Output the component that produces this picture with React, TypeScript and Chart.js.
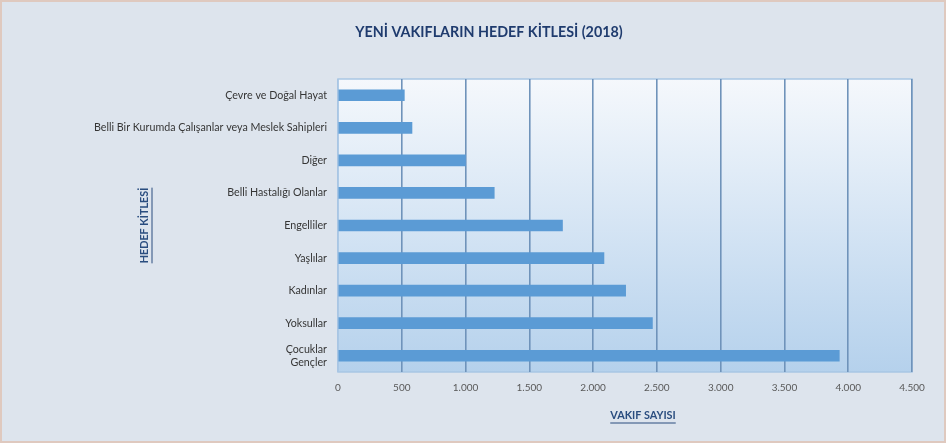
import React, { useEffect, useRef } from "react";
import { Chart, registerables } from "chart.js";

Chart.register(...registerables);

const categories: (string | string[])[] = [
  "Çevre ve Doğal Hayat",
  "Belli Bir Kurumda Çalışanlar veya Meslek Sahipleri",
  "Diğer",
  "Belli Hastalığı Olanlar",
  "Engelliler",
  "Yaşlılar",
  "Kadınlar",
  "Yoksullar",
  ["Çocuklar", "Gençler"],
];
const vakifSayisi: number[] = [520, 580, 1000, 1225, 1760, 2085, 2255, 2465, 3930];
const xTicks: number[] = [0, 500, 1000, 1500, 2000, 2500, 3000, 3500, 4000, 4500];
const chartTitle = "YENİ VAKIFLARIN HEDEF KİTLESİ (2018)";
const xTitle = "VAKIF SAYISI";
const yTitle = "HEDEF KİTLESİ";

const FONT = "Lato, 'Open Sans', sans-serif";

const decorPlugin = {
  id: "decor",
  beforeDraw(chart: any) {
    const { ctx, chartArea: a } = chart;
    ctx.save();
    const g = ctx.createLinearGradient(0, a.top, 0, a.bottom);
    g.addColorStop(0, "#f5f8fc");
    g.addColorStop(1, "#b5d1ec");
    ctx.fillStyle = g;
    ctx.fillRect(a.left, a.top, a.right - a.left, a.bottom - a.top);
    ctx.strokeStyle = "#a9c6e4";
    ctx.lineWidth = 1.5;
    ctx.strokeRect(a.left, a.top, a.right - a.left, a.bottom - a.top);
    ctx.restore();
  },
  afterDraw(chart: any) {
    const { ctx, chartArea: a } = chart;
    ctx.save();
    ctx.fillStyle = "#1f3b6e";
    ctx.font = `bold 14.3px ${FONT}`;
    ctx.textAlign = "center";
    ctx.textBaseline = "middle";
    ctx.fillText(chartTitle, 489, 32);

    ctx.fillStyle = "#2a4d7f";
    ctx.font = `bold 10.8px ${FONT}`;
    const xw = ctx.measureText(xTitle).width;
    const xc = 643;
    const xy = 416;
    ctx.fillText(xTitle, xc, xy);
    ctx.strokeStyle = "#2a4d7f";
    ctx.lineWidth = 1;
    ctx.beginPath();
    ctx.moveTo(xc - xw / 2, xy + 7);
    ctx.lineTo(xc + xw / 2, xy + 7);
    ctx.stroke();

    ctx.translate(145, (a.top + a.bottom) / 2);
    ctx.rotate(-Math.PI / 2);
    const yw = ctx.measureText(yTitle).width;
    ctx.fillText(yTitle, 0, 0);
    ctx.beginPath();
    ctx.moveTo(-yw / 2, 7);
    ctx.lineTo(yw / 2, 7);
    ctx.stroke();
    ctx.restore();
  },
};

export default function App() {
  const ref = useRef<HTMLCanvasElement | null>(null);
  useEffect(() => {
    if (!ref.current) return;
    const chart = new Chart(ref.current, {
      type: "bar",
      data: {
        labels: categories,
        datasets: [
          {
            data: vakifSayisi,
            backgroundColor: "#5b9bd5",
            borderWidth: 0,
            barThickness: 11,
          },
        ],
      },
      plugins: [decorPlugin],
      options: {
        indexAxis: "y",
        animation: false,
        responsive: false,
        maintainAspectRatio: false,
        layout: { padding: { top: 79, right: 34, left: 0, bottom: 0 } },
        plugins: {
          legend: { display: false },
          title: { display: false },
          tooltip: { enabled: false },
        },
        scales: {
          x: {
            min: 0,
            max: 4500,
            afterBuildTicks: (scale: any) => {
              scale.ticks = xTicks.map((v) => ({ value: v }));
            },
            afterFit: (scale: any) => {
              scale.height = 71;
            },
            grid: {
              color: (c: any) => (c.index === 0 ? "#a9c6e4" : "#6f93ba"),
              lineWidth: 1.6,
              drawTicks: false,
            },
            border: { display: false },
            ticks: {
              padding: 10,
              color: "#595959",
              font: { family: FONT, size: 10 },
              callback: (v: any) => Number(v).toLocaleString("de-DE"),
            },
          },
          y: {
            afterFit: (scale: any) => {
              scale.width = 338;
            },
            grid: { display: false, drawTicks: false },
            border: { display: false },
            ticks: {
              padding: 11,
              color: "#363636",
              font: { family: FONT, size: 10.7 },
              autoSkip: false,
            },
          },
        },
      },
    });
    return () => chart.destroy();
  }, []);

  return (
    <div
      style={{
        position: "absolute",
        left: 0,
        top: 0,
        width: 946,
        height: 443,
        background: "#dde4ed",
      }}
    >
      <canvas ref={ref} width={946} height={443} style={{ display: "block" }} />
      <div
        style={{
          position: "absolute",
          left: 0,
          top: 0,
          width: 946,
          height: 443,
          boxSizing: "border-box",
          border: "2px solid #dfc9bf",
          pointerEvents: "none",
        }}
      />
    </div>
  );
}
